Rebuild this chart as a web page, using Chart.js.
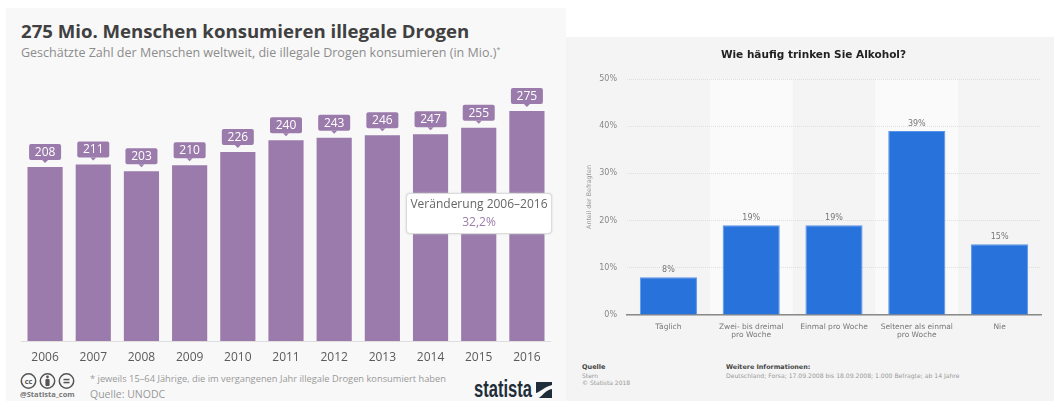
<!DOCTYPE html>
<html lang="de">
<head>
<meta charset="utf-8">
<title>Drogen und Alkohol</title>
<script src="https://cdn.jsdelivr.net/npm/chart.js@4"></script>
<style>
  html, body { margin: 0; padding: 0; background: #fff; width: 1054px; height: 401px; overflow: hidden; }
  .abs { position: absolute; white-space: nowrap; }
  canvas { position: absolute; }
  #panelL { left: 6px; top: 8px; width: 560px; height: 393px; background: #f8f8f8; }
  #panelR { left: 566px; top: 37px; width: 488px; height: 364px; background: #f4f4f4; }
  .os { font-family: "Open Sans", sans-serif; }
  .dv { font-family: "DejaVu Sans", sans-serif; }
  #callout { left: 406px; top: 193px; width: 144px; height: 38px; padding-top: 1px; background: #fff; border: 1px solid #dcdcdc;
             border-radius: 4px; text-align: center; font-size: 12px; line-height: 18px; color: #666; box-shadow: 0 0 2px #ccc; }
  #callout b { font-weight: 400; color: #9a7bab; display: block; }
</style>
</head>
<body>
<div class="abs" id="panelL"></div>
<div class="abs" id="panelR"></div>

<div class="abs os" style="left:21px;top:17px;font-size:18.6px;line-height:28px;font-weight:700;color:#404040">275 Mio. Menschen konsumieren illegale Drogen</div>
<div class="abs os" style="left:21px;top:43px;font-size:12.5px;line-height:20px;color:#8c8c8c">Geschätzte Zahl der Menschen weltweit, die illegale Drogen konsumieren (in Mio.)<sup style="font-size:7px;line-height:0">*</sup></div>

<canvas id="drugs" width="530" height="301" style="left:21px;top:60px"></canvas>
<canvas id="alcohol" width="488" height="320" style="left:566px;top:37px"></canvas>

<div class="abs os" id="callout">Veränderung 2006–2016<b>32,2%</b></div>

<!-- Licence badges and handle -->
<svg class="abs" style="left:20px;top:372px" width="56" height="18" viewBox="0 0 56 18">
  <g fill="none" stroke="#555" stroke-width="1.5">
    <circle cx="8.5" cy="9" r="7.2"/><circle cx="27.5" cy="9" r="7.2"/><circle cx="46.5" cy="9" r="7.2"/>
  </g>
  <circle cx="27.5" cy="5" r="1.4" fill="#555"/>
  <rect x="25.4" y="7" width="4.2" height="7" rx="1" fill="#555"/>
  <rect x="43.5" y="6.8" width="6" height="1.5" fill="#555"/>
  <rect x="43.5" y="9.8" width="6" height="1.5" fill="#555"/>
  <text x="8.5" y="11.8" text-anchor="middle" font-family="Open Sans" font-size="7.5" font-weight="700" fill="#555">cc</text>
</svg>
<div class="abs os" style="left:20px;top:388px;font-size:7.5px;line-height:12px;font-weight:700;color:#777">@Statista_com</div>
<div class="abs os" style="left:90px;top:371px;font-size:9.3px;line-height:16px;color:#999">* jeweils 15–64 Jährige, die im vergangenen Jahr illegale Drogen konsumiert haben</div>
<div class="abs os" style="left:90px;top:387px;font-size:10.5px;line-height:14px;color:#999">Quelle: UNODC</div>

<div class="abs" style="left:474px;top:376px;font-family:'Liberation Sans',sans-serif;font-size:23px;line-height:26px;font-weight:700;color:#1f2d3a;transform-origin:left center;transform:scaleX(.72)">statista</div>
<svg class="abs" style="left:536px;top:382px" width="16" height="16" viewBox="0 0 17 16" preserveAspectRatio="none">
  <rect width="17" height="16" fill="#1f2d3a"/>
  <path d="M0 11 C5 10 8 5 17 3 L17 7 C10 8 8 13 3 16 L0 16 Z" fill="#f8f8f8"/>
</svg>

<!-- Survey panel footer -->
<div class="abs dv" style="left:582px;top:363px;font-size:6.5px;line-height:9px;font-weight:700;color:#444">Quelle</div>
<div class="abs dv" style="left:582px;top:372px;font-size:6px;line-height:8px;color:#999">Stern</div>
<div class="abs dv" style="left:582px;top:379px;font-size:6px;line-height:8px;color:#999">© Statista 2018</div>
<div class="abs dv" style="left:726px;top:363px;font-size:6.4px;line-height:9px;font-weight:700;color:#444">Weitere Informationen:</div>
<div class="abs dv" style="left:726px;top:372px;font-size:6.1px;line-height:8px;color:#999">Deutschland; Forsa; 17.09.2008 bis 18.09.2008; 1.000 Befragte; ab 14 Jahre</div>

<script>
// Illegal drug users worldwide, in millions
const drugYears = ['2006','2007','2008','2009','2010','2011','2012','2013','2014','2015','2016'];
const drugUsers = [208, 211, 203, 210, 226, 240, 243, 246, 247, 255, 275];

// Drinking frequency survey, share of respondents in percent
const drinkCategories = ['Täglich', ['Zwei- bis dreimal','pro Woche'], 'Einmal pro Woche', ['Seltener als einmal','pro Woche'], 'Nie'];
const drinkShares = [8, 19, 19, 39, 15];
const shadedCategories = [1, 3];

// Rounded value tag with a small pointer above each bar
const tagPlugin = {
  id: 'tags',
  afterDatasetsDraw(chart) {
    const { ctx } = chart;
    const w = 32, h = 16, tip = 3, gap = 4;
    chart.getDatasetMeta(0).data.forEach((bar, i) => {
      const bottom = bar.y - gap - tip;
      ctx.save();
      ctx.fillStyle = '#9a7bab';
      ctx.beginPath();
      ctx.roundRect(bar.x - w / 2, bottom - h, w, h, 2);
      ctx.fill();
      ctx.beginPath();
      ctx.moveTo(bar.x - 3, bottom);
      ctx.lineTo(bar.x + 3, bottom);
      ctx.lineTo(bar.x, bottom + tip);
      ctx.closePath();
      ctx.fill();
      ctx.fillStyle = '#fff';
      ctx.font = '12px "Open Sans"';
      ctx.textAlign = 'center';
      ctx.textBaseline = 'middle';
      ctx.fillText(String(drugUsers[i]), bar.x, bottom - h / 2 + 0.5);
      ctx.restore();
    });
  }
};

// Lighter background behind every other category
const bandPlugin = {
  id: 'bands',
  beforeDraw(chart) {
    const { ctx, chartArea, scales } = chart;
    const step = scales.x.width / drinkShares.length;
    ctx.save();
    ctx.fillStyle = '#fafafa';
    shadedCategories.forEach(i => {
      ctx.fillRect(scales.x.getPixelForValue(i) - step / 2, chartArea.top, step, chartArea.height);
    });
    ctx.restore();
  }
};

// Percent label above each bar
const percentPlugin = {
  id: 'percents',
  afterDatasetsDraw(chart) {
    const { ctx } = chart;
    ctx.save();
    ctx.fillStyle = '#777';
    ctx.font = '8px "DejaVu Sans"';
    ctx.textAlign = 'center';
    ctx.textBaseline = 'bottom';
    chart.getDatasetMeta(0).data.forEach((bar, i) => {
      ctx.fillText(drinkShares[i] + '%', bar.x, bar.y - 3);
    });
    ctx.restore();
  }
};

new Chart(document.getElementById('drugs'), {
  type: 'bar',
  data: {
    labels: drugYears,
    datasets: [{ data: drugUsers, backgroundColor: '#9a7bab', categoryPercentage: 1, barPercentage: 0.73 }]
  },
  plugins: [tagPlugin],
  options: {
    responsive: false,
    animation: false,
    layout: { padding: { top: 30 } },
    plugins: { legend: { display: false }, tooltip: { enabled: false } },
    scales: {
      x: {
        afterFit(s) { s.height = 20; },
        grid: { display: false },
        border: { color: '#dedede', width: 1 },
        ticks: { color: '#5a5a5a', font: { family: 'Open Sans', size: 12 }, padding: 1, maxRotation: 0 }
      },
      y: { display: false, min: 0, max: 300 }
    }
  }
});

new Chart(document.getElementById('alcohol'), {
  type: 'bar',
  data: {
    labels: drinkCategories,
    datasets: [{ data: drinkShares, backgroundColor: '#2872dc', borderColor: '#5a94ea', borderWidth: 1, categoryPercentage: 1, barPercentage: 0.69 }]
  },
  plugins: [bandPlugin, percentPlugin],
  options: {
    responsive: false,
    animation: false,
    layout: { padding: { left: 20, right: 13 } },
    plugins: {
      legend: { display: false },
      tooltip: { enabled: false },
      title: {
        display: true,
        text: 'Wie häufig trinken Sie Alkohol?',
        color: '#222',
        font: { family: 'DejaVu Sans', size: 10.5, weight: 'bold' },
        padding: { top: 12, bottom: 17.4 }
      }
    },
    scales: {
      x: {
        afterFit(s) { s.height = 42; },
        grid: { display: false },
        border: { color: '#8a8a8a', width: 1.5 },
        ticks: { color: '#777', font: { family: 'DejaVu Sans', size: 7.5, lineHeight: 1.1 }, padding: 0, maxRotation: 0, autoSkip: false }
      },
      y: {
        min: 0,
        max: 50,
        afterFit(s) { s.width = 41; },
        title: { display: true, text: 'Anteil der Befragten', color: '#999', font: { family: 'DejaVu Sans', size: 6.3 }, padding: 0 },
        grid: { color: '#dfdfdf', drawTicks: false },
        border: { display: false, dash: [1, 1] },
        ticks: { stepSize: 10, color: '#888', font: { family: 'DejaVu Sans', size: 8 }, padding: 10, callback: v => v + '%' }
      }
    }
  }
});
</script>
</body>
</html>
